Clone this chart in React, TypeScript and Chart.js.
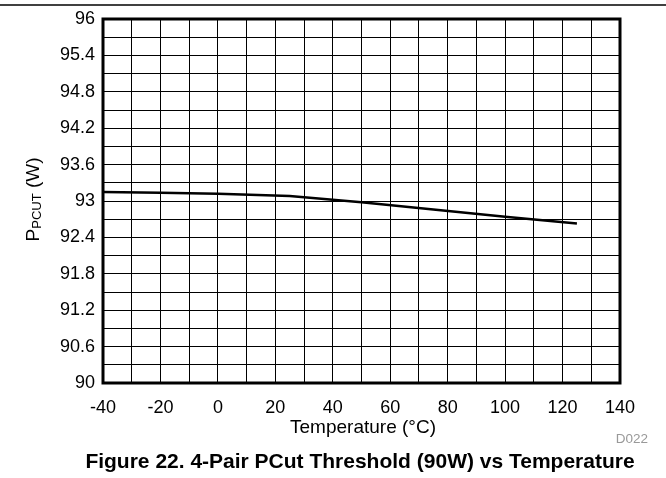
import React, { useEffect, useRef } from "react";
import { Chart, registerables } from "chart.js";

Chart.register(...registerables);

const temperatures = [-40, -20, 0, 25, 50, 75, 100, 125];
const pcutValues = [93.15, 93.137, 93.12, 93.082, 92.98, 92.86, 92.74, 92.63];

const xMin = -40;
const xMax = 140;
const xStep = 10;
const yMin = 90;
const yMax = 96;
const yStep = 0.3;

const xTitle = "Temperature (\u00B0C)";
const yTitleMain = "P";
const yTitleSub = "PCUT";
const yTitleTail = " (W)";
const caption = "Figure 22. 4-Pair PCut Threshold (90W) vs Temperature";
const figureCode = "D022";

const FONT = "'Liberation Sans', Arial, Helvetica, sans-serif";

const decorPlugin = {
  id: "decor",
  afterDraw(chart: any) {
    const { ctx, chartArea } = chart;
    const { left, right, top, bottom } = chartArea;
    ctx.save();
    // frame
    ctx.strokeStyle = "#000";
    ctx.lineWidth = 3;
    ctx.strokeRect(left, top, right - left, bottom - top);
    // top rule
    ctx.lineWidth = 1.5;
    ctx.beginPath();
    ctx.moveTo(0, 5);
    ctx.lineTo(666, 5);
    ctx.stroke();

    // x title
    ctx.fillStyle = "#000";
    ctx.font = `19px ${FONT}`;
    ctx.textAlign = "center";
    ctx.textBaseline = "alphabetic";
    ctx.fillText(xTitle, 363, 433);

    // figure code
    ctx.fillStyle = "#999";
    ctx.font = `13.5px ${FONT}`;
    ctx.textAlign = "right";
    ctx.fillText(figureCode, 648, 443);

    // caption
    ctx.fillStyle = "#000";
    ctx.font = `bold 21px ${FONT}`;
    ctx.textAlign = "center";
    ctx.fillText(caption, 360, 468);

    // y title with subscript
    ctx.translate(38.5, 199.5);
    ctx.rotate(-Math.PI / 2);
    ctx.textAlign = "left";
    ctx.font = `19px ${FONT}`;
    const wMain = ctx.measureText(yTitleMain).width;
    const wTail = ctx.measureText(yTitleTail).width;
    ctx.font = `13px ${FONT}`;
    const wSub = ctx.measureText(yTitleSub).width;
    const total = wMain + wSub + wTail;
    let x = -total / 2;
    ctx.font = `19px ${FONT}`;
    ctx.fillText(yTitleMain, x, 0);
    x += wMain;
    ctx.font = `13px ${FONT}`;
    ctx.fillText(yTitleSub, x, 2);
    x += wSub;
    ctx.font = `19px ${FONT}`;
    ctx.fillText(yTitleTail, x, 0);
    ctx.restore();
  },
};

export default function App() {
  const canvasRef = useRef<HTMLCanvasElement | null>(null);

  useEffect(() => {
    const canvas = canvasRef.current;
    if (!canvas) return;
    const chart = new Chart(canvas, {
      type: "line",
      data: {
        datasets: [
          {
            data: temperatures.map((t, i) => ({ x: t, y: pcutValues[i] })),
            borderColor: "#000",
            borderWidth: 2.5,
            pointRadius: 0,
            tension: 0,
            fill: false,
          },
        ],
      },
      options: {
        responsive: false,
        animation: false,
        devicePixelRatio: 1,
        layout: { padding: { top: 19, right: 46, left: 0, bottom: 0 } },
        plugins: {
          legend: { display: false },
          tooltip: { enabled: false },
          title: { display: false },
        },
        scales: {
          x: {
            type: "linear",
            min: xMin,
            max: xMax,
            afterFit(scale: any) {
              scale.height = 95;
            },
            ticks: {
              stepSize: xStep,
              autoSkip: false,
              maxRotation: 0,
              padding: 14,
              color: "#000",
              font: { family: FONT, size: 18 },
              callback: (v: any) => (Number(v) % 20 === 0 ? String(v) : ""),
            },
            grid: { color: "#000", lineWidth: 1, drawTicks: false },
            border: { display: false },
          },
          y: {
            type: "linear",
            min: yMin,
            max: yMax,
            afterFit(scale: any) {
              scale.width = 103;
            },
            ticks: {
              stepSize: yStep,
              autoSkip: false,
              padding: 8,
              color: "#000",
              font: { family: FONT, size: 18 },
              callback: (v: any) => {
                const n = Math.round((Number(v) - yMin) / yStep);
                return n % 2 === 0 ? String(Math.round(Number(v) * 10) / 10) : "";
              },
            },
            grid: { color: "#000", lineWidth: 1, drawTicks: false },
            border: { display: false },
          },
        },
      },
      plugins: [decorPlugin],
    });
    return () => chart.destroy();
  }, []);

  return (
    <div style={{ position: "fixed", left: 0, top: 0, width: 666, height: 478, background: "#fff" }}>
      <canvas ref={canvasRef} width={666} height={478} style={{ width: 666, height: 478 }} />
    </div>
  );
}
